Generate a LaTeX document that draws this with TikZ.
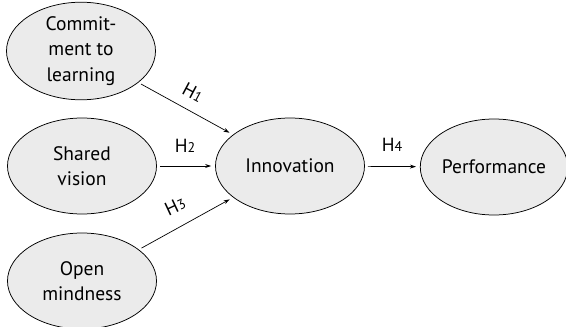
\documentclass[tikz,border=0pt]{standalone}
\usepackage{fontspec}
\setmainfont{PT Sans}
\usetikzlibrary{shapes.geometric,arrows.meta}
\begin{document}
\begin{tikzpicture}[x=1pt,y=-1pt,
  construct/.style={ellipse, draw=black, line width=0.75pt, fill=black!8, inner sep=0pt,
    minimum width=149pt, minimum height=96pt, align=center,
    font=\fontsize{19.5}{25.5}\selectfont},
  link/.style={draw=black, line width=0.7pt, -{Stealth[length=6pt,width=4pt]}, shorten >=4pt, shorten <=3pt},
  hyp/.style={font=\fontsize{19}{20}\selectfont, inner sep=0pt}]
\useasboundingbox (0,0) rectangle (566,327);
\node[construct] (com) at (81,51) {Commit-\\ment to\\learning};
\node[construct] (sha) at (82,166) {Shared\\vision};
\node[construct] (ope) at (82,281) {Open\\mindness};
\node[construct] (inn) at (290,166) {Innovation};
\node[construct, minimum width=143pt] (per) at (494,167) {Performance};
\draw[link] (com) -- (inn);
\draw[link] (sha) -- (inn);
\draw[link] (ope) -- (inn);
\draw[link] (inn) -- (per);
\node[hyp, rotate=-28] (h1) at (193,92) {H{\fontsize{14}{14}\selectfont 1}};
\node[hyp] (h2) at (185,146) {H{\fontsize{14}{14}\selectfont 2}};
\node[hyp, rotate=25] (h3) at (175,206) {H{\fontsize{14}{14}\selectfont 3}};
\node[hyp] (h4) at (392,145) {H{\fontsize{14}{14}\selectfont 4}};
\end{tikzpicture}
\end{document}
